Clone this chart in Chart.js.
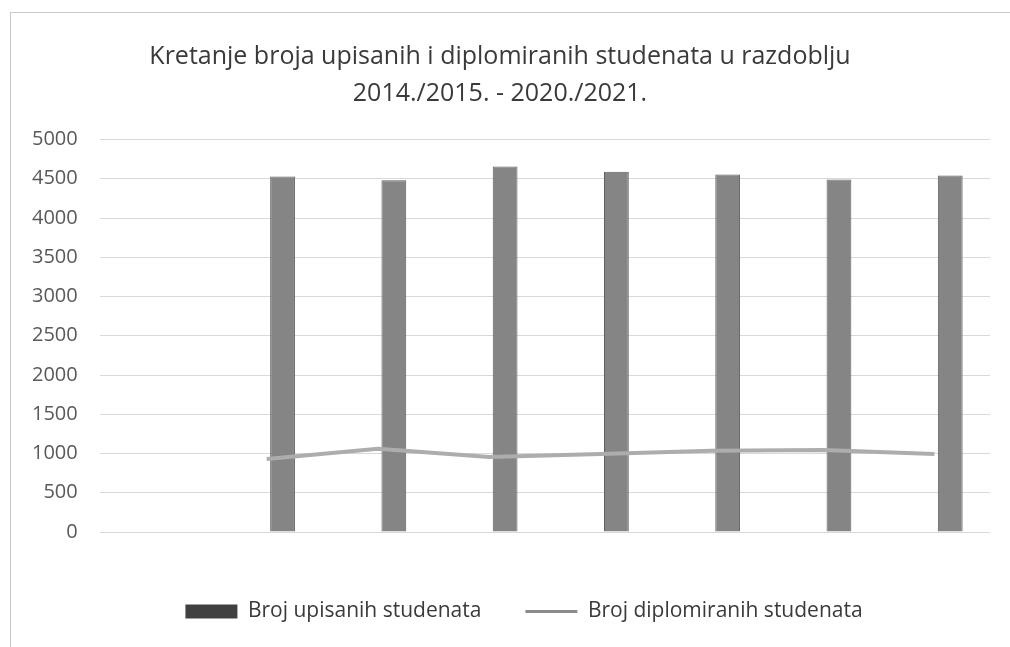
<!DOCTYPE html>
<html>
<head>
<meta charset="utf-8">
<script src="https://cdn.jsdelivr.net/npm/chart.js@4/dist/chart.umd.min.js"></script>
<style>
    html, body { margin: 0; padding: 0; background: #fff; }
    #wrap { position: relative; width: 1010px; height: 647px; }
    #frame {
        position: absolute; left: 10px; top: 12px; width: 1000px; height: 640px;
        border-left: 1px solid #c8c8c8; border-top: 1px solid #c8c8c8;
        pointer-events: none;
    }
</style>
</head>
<body>
<div id="wrap">
    <canvas id="chart" width="1010" height="647"></canvas>
    <div id="frame"></div>
</div>
<script>
// academic years; first slot is empty in the original chart
const years = ['', '2014./2015.', '2015./2016.', '2016./2017.', '2017./2018.', '2018./2019.', '2019./2020.', '2020./2021.'];
const upisani = [null, 4530, 4480, 4655, 4590, 4555, 4490, 4540];
const diplomirani = [null, 930, 1060, 955, 995, 1035, 1045, 995];
const yTicks = [0, 500, 1000, 1500, 2000, 2500, 3000, 3500, 4000, 4500, 5000];

const titleLines = ['Kretanje broja upisanih i diplomiranih studenata u razdoblju', '2014./2015. - 2020./2021.'];
const legendNames = ['Broj upisanih studenata', 'Broj diplomiranih studenata'];

const font = "'Open Sans', 'Noto Sans', sans-serif";
const textColor = '#3a3a3a';

// nudge the legend row a bit to the right, like in the original
const legendShift = {
    id: 'legendShift',
    afterLayout(chart) {
        if (!chart.legend) return;
        chart.legend.left += 24;
        chart.legend.right += 24;
    }
};

new Chart(document.getElementById('chart'), {
    type: 'bar',
    data: {
        labels: years,
        datasets: [
            {
                // empty slot so the bars sit right of the category centre
                label: '_pad',
                data: years.map(() => null),
                backgroundColor: 'rgba(0,0,0,0)',
                order: 1
            },
            {
                label: legendNames[0],
                data: upisani,
                backgroundColor: '#858585',
                borderColor: '#5f5f5f',
                borderWidth: 1,
                order: 2
            },
            {
                type: 'line',
                label: legendNames[1],
                data: diplomirani,
                borderColor: '#adadad',
                backgroundColor: '#adadad',
                borderWidth: 4,
                pointRadius: 0,
                tension: 0,
                order: 0
            }
        ]
    },
    plugins: [legendShift],
    options: {
        responsive: false,
        animation: false,
        categoryPercentage: 0.571,
        barPercentage: 0.78,
        layout: { padding: { left: 10, right: 20, top: 32, bottom: 15 } },
        plugins: {
            tooltip: { enabled: false },
            title: {
                display: true,
                text: titleLines,
                color: textColor,
                font: { family: font, size: 25, weight: 'normal', lineHeight: 1.49 },
                padding: { top: 6, bottom: 27 }
            },
            legend: {
                position: 'bottom',
                labels: {
                    color: textColor,
                    font: { family: font, size: 21 },
                    usePointStyle: true,
                    pointStyleWidth: 52,
                    boxHeight: 14,
                    padding: 44,
                    filter: item => item.text !== '_pad',
                    sort: (a, b) => a.datasetIndex - b.datasetIndex,
                    generateLabels: chart => {
                        const items = Chart.defaults.plugins.legend.labels.generateLabels(chart);
                        items.forEach(it => {
                            if (it.datasetIndex === 1) {
                                it.pointStyle = 'rect';
                                it.fillStyle = '#404040';
                                it.strokeStyle = '#404040';
                                it.lineWidth = 0;
                            } else if (it.datasetIndex === 2) {
                                it.pointStyle = 'line';
                                it.strokeStyle = '#8c8c8c';
                                it.lineWidth = 3;
                            }
                        });
                        return items;
                    }
                }
            }
        },
        scales: {
            x: {
                ticks: { display: false },
                grid: { display: false },
                border: { display: false },
                afterFit: axis => { axis.height = 25; }
            },
            y: {
                min: 0,
                max: 5000,
                afterBuildTicks: axis => { axis.ticks = yTicks.map(v => ({ value: v })); },
                ticks: {
                    color: '#595959',
                    padding: 22,
                    font: { family: font, size: 20 },
                    callback: v => String(v)
                },
                grid: { color: '#d9d9d9', lineWidth: 1, drawTicks: false },
                border: { display: false }
            }
        }
    }
});
</script>
</body>
</html>
